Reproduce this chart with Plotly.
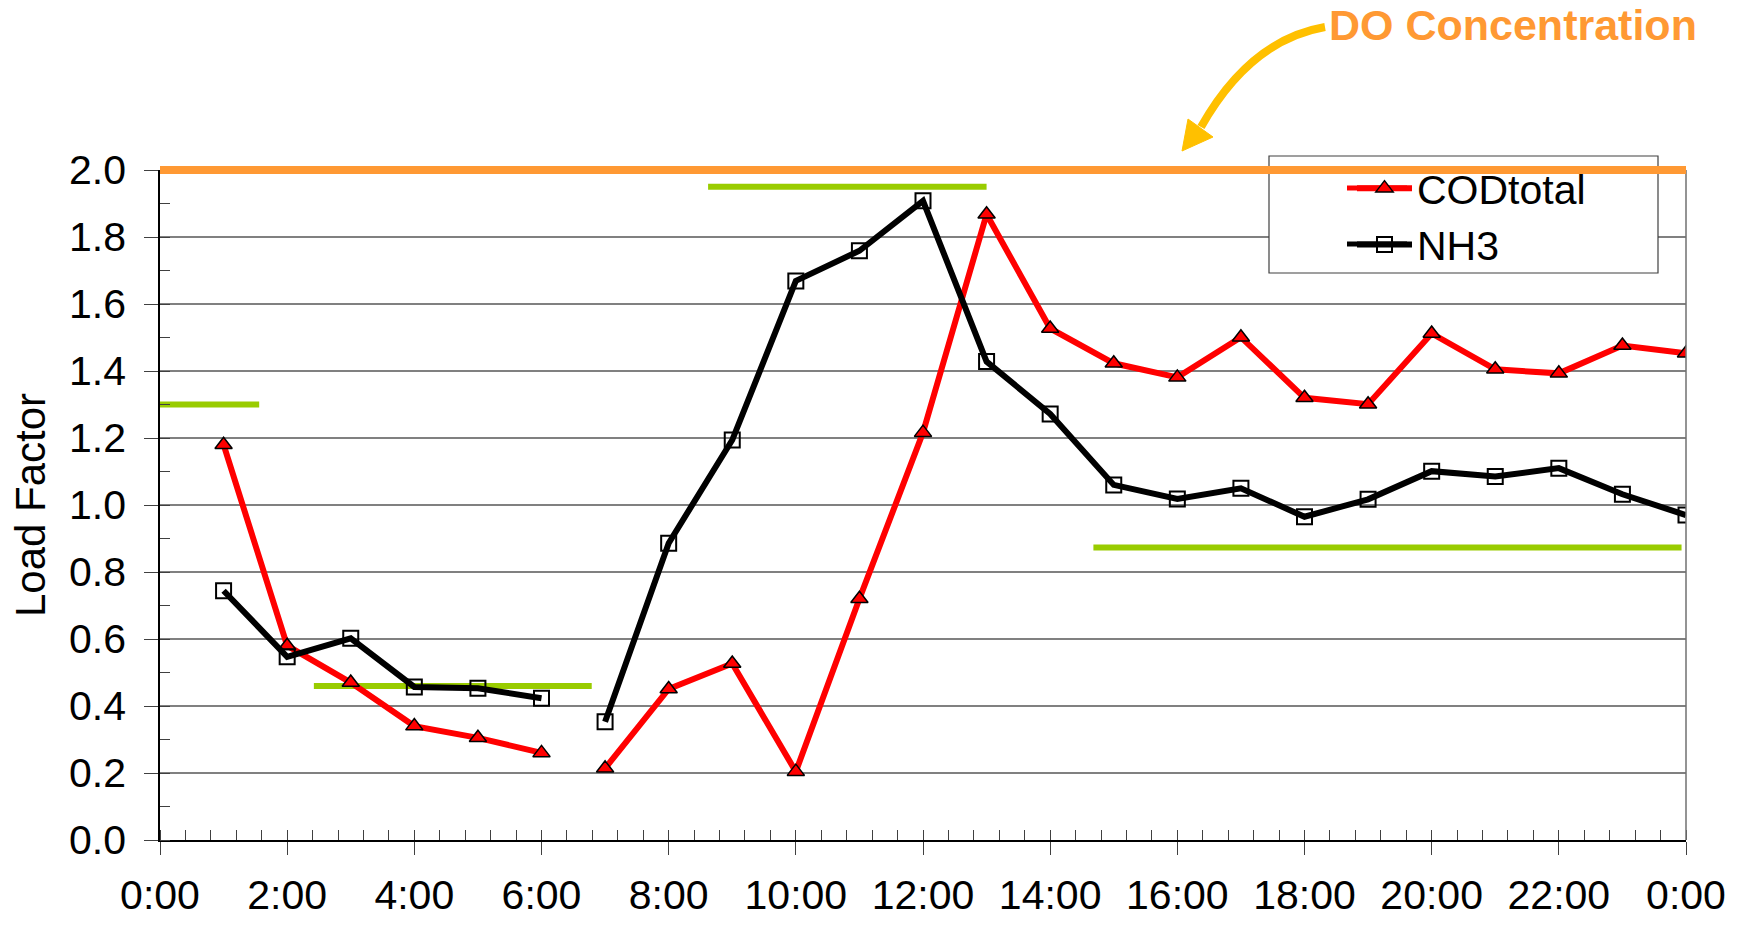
import plotly.graph_objects as go

# ---- data -------------------------------------------------------------
hours = list(range(1, 25))  # 1:00 ... 24:00 (0:00 next day)
cod_total = [1.18, 0.58, 0.47, 0.34, 0.305, 0.26,
             0.214, 0.451, 0.527, 0.204, 0.72, 1.216,
             1.868, 1.527, 1.423, 1.381, 1.501, 1.320,
             1.301, 1.512, 1.405, 1.393, 1.476, 1.453]
nh3 = [0.744, 0.547, 0.602, 0.457, 0.453, 0.423,
       0.353, 0.886, 1.194, 1.669, 1.759, 1.908,
       1.428, 1.272, 1.060, 1.018, 1.050, 0.965,
       1.017, 1.101, 1.085, 1.110, 1.032, 0.970]
gap_after_hour = 6  # lines are broken between 6:00 and 7:00

# reference load levels (level, start hour, end hour)
ref_levels = [1.30, 0.46, 1.95, 0.873]
ref_start = [0.0, 2.42, 8.62, 14.68]
ref_end = [1.56, 6.79, 13.0, 23.93]

do_level = 2.0
x_ticks = list(range(0, 25, 2))
x_ticktext = ["0:00", "2:00", "4:00", "6:00", "8:00", "10:00", "12:00",
              "14:00", "16:00", "18:00", "20:00", "22:00", "0:00"]
y_range = [0.0, 2.0]

# ---- geometry ---------------------------------------------------------
W, H = 1737, 927
ML, MR, MT, MB = 160, 51, 170, 87
PW, PH = W - ML - MR, H - MT - MB


def px(xp):
    return (xp - ML) / PW


def py(yp):
    return (H - MB - yp) / PH


def with_gap(xs, ys, after):
    gx, gy = [], []
    for xv, yv in zip(xs, ys):
        gx.append(xv)
        gy.append(yv)
        if xv == after:
            gx.append(after + 0.5)
            gy.append(None)
    return gx, gy


FONT = "Arial, Liberation Sans, sans-serif"
ORANGE = "#FF9933"
GREEN = "#99CC00"
GOLD = "#FFC000"
RED = "#FF0000"
FS = 41

fig = go.Figure()

# green reference levels
for lvl, s, e in zip(ref_levels, ref_start, ref_end):
    fig.add_trace(go.Scatter(x=[s, e], y=[lvl, lvl], mode="lines",
                             line=dict(color=GREEN, width=6),
                             showlegend=False, hoverinfo="skip"))

cx, cy = with_gap(hours, cod_total, gap_after_hour)
fig.add_trace(go.Scatter(
    x=cx, y=cy, mode="lines+markers", name="CODtotal",
    connectgaps=False,
    line=dict(color=RED, width=6),
    marker=dict(symbol="triangle-up", size=15, color=RED,
                line=dict(color="black", width=1.5)),
))
nx, ny = with_gap(hours, nh3, gap_after_hour)
fig.add_trace(go.Scatter(
    x=nx, y=ny, mode="lines+markers", name="NH3",
    connectgaps=False,
    line=dict(color="black", width=6),
    marker=dict(symbol="square-open", size=15, color="black",
                line=dict(color="black", width=2)),
))

shapes = []
# legend frame (drawn as a shape so the DO line can cross over it)
shapes.append(dict(type="rect", xref="paper", yref="paper",
                   x0=px(1269), x1=px(1658), y0=py(273), y1=py(156),
                   fillcolor="white", line=dict(color="#404040", width=1.2),
                   layer="above"))
# longer legend key lines
for col, yy in ((RED, 188), ("black", 244)):
    shapes.append(dict(type="line", xref="paper", yref="paper",
                       x0=px(1347), x1=px(1407), y0=py(yy), y1=py(yy),
                       line=dict(color=col, width=5), layer="above"))
# right border of plot area
shapes.append(dict(type="line", xref="paper", yref="paper",
                   x0=1, x1=1, y0=0, y1=1,
                   line=dict(color="#707070", width=1.5), layer="above"))
# DO concentration level
shapes.append(dict(type="line", xref="x", yref="paper",
                   x0=0, x1=24,
                   y0=do_level / y_range[1], y1=do_level / y_range[1],
                   line=dict(color=ORANGE, width=8), layer="above"))
# curved arrow pointing at the DO line
p0 = (px(1325), py(27))
c1 = (px(1250), py(40))
p2 = (px(1201), py(127))
shapes.append(dict(type="path", xref="paper", yref="paper",
                   path=f"M {p0[0]},{p0[1]} Q {c1[0]},{c1[1]} {p2[0]},{p2[1]}",
                   line=dict(color=GOLD, width=8), layer="above"))
tip, w1, w2 = (px(1182), py(151)), (px(1188), py(119)), (px(1213), py(137))
shapes.append(dict(type="path", xref="paper", yref="paper",
                   path=f"M {tip[0]},{tip[1]} L {w1[0]},{w1[1]} L {w2[0]},{w2[1]} Z",
                   fillcolor=GOLD, line=dict(color=GOLD, width=1), layer="above"))

fig.update_layout(
    width=W, height=H,
    margin=dict(l=ML, r=MR, t=MT, b=MB, autoexpand=False),
    paper_bgcolor="white", plot_bgcolor="white",
    font=dict(family=FONT, color="black"),
    shapes=shapes,
    showlegend=True,
    legend=dict(x=px(1352), y=py(155), xanchor="left", yanchor="top",
                xref="paper", yref="paper",
                bgcolor="rgba(0,0,0,0)", borderwidth=0,
                font=dict(size=FS, family=FONT), itemwidth=55,
                tracegroupgap=0),
    annotations=[dict(text="<b>DO Concentration</b>", xref="paper", yref="paper",
                      x=px(1327), y=py(25), xanchor="left", yanchor="middle",
                      showarrow=False, font=dict(size=43, color=ORANGE, family=FONT))],
)

fig.update_xaxes(
    range=[0, 24], tickmode="array", tickvals=x_ticks, ticktext=x_ticktext,
    showgrid=False, zeroline=False, automargin=False,
    showline=True, linecolor="black", linewidth=1.5,
    ticks="outside", ticklen=13, tickwidth=1.2, tickcolor="#404040",
    ticklabelstandoff=5,
    tickfont=dict(size=FS, family=FONT),
    minor=dict(tickmode="linear", tick0=0, dtick=0.4, ticks="inside",
               ticklen=10, tickwidth=1.2, tickcolor="#404040", showgrid=False),
)
fig.update_yaxes(
    range=y_range, tickmode="linear", tick0=0, dtick=0.2, tickformat=".1f",
    showgrid=True, gridcolor="#808080", gridwidth=1.5, zeroline=False,
    automargin=False,
    showline=True, linecolor="black", linewidth=1.5,
    ticks="outside", ticklen=14, tickwidth=1.2, tickcolor="#404040",
    ticklabelstandoff=10,
    tickfont=dict(size=FS, family=FONT),
    minor=dict(tickmode="linear", tick0=0, dtick=0.1, ticks="inside",
               ticklen=10, tickwidth=1.2, tickcolor="#404040", showgrid=False),
    title=dict(text="Load Factor", font=dict(size=42, family=FONT), standoff=10),
)

fig.write_html("out.html")
